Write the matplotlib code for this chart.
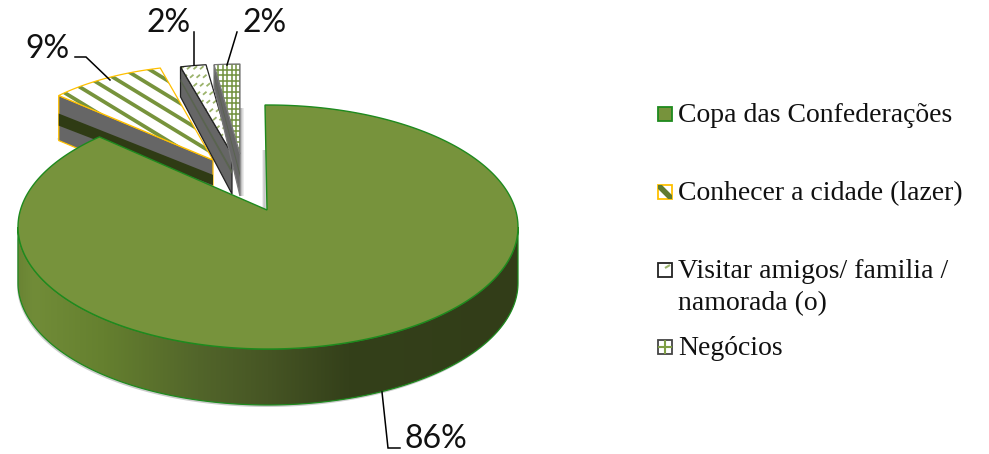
import numpy as np
import matplotlib
matplotlib.use("Agg")
import matplotlib.pyplot as plt
from matplotlib.patches import Polygon, Rectangle
from matplotlib.collections import LineCollection
from matplotlib.colors import LinearSegmentedColormap

categories = ["Copa das Confederações", "Conhecer a cidade (lazer)",
              "Visitar amigos/ familia /\nnamorada (o)", "Negócios"]
values = [86, 9, 2, 2]
pct_labels = ["86%", "9%", "2%", "2%"]

W, H = 989, 454
fig = plt.figure(figsize=(W/100, H/100), dpi=100)
ax = fig.add_axes([0, 0, 1, 1])
ax.set_axis_off()

GREEN = "#77933C"
fracs = np.array(values, float) / sum(values)
edges = np.concatenate([[0], np.cumsum(fracs)]) * 2 * np.pi


def arc(cx, cy, rx, ry, t0, t1, n=160):
    t = np.linspace(t0, t1, n)
    return np.column_stack([cx + rx*np.sin(t), cy - ry*np.cos(t)])


# exploded slice geometry: apex x, apex y, rx, ry, wall depth at rim, wall depth at apex
geo = {1: (213, 160, 210, 95, 45, 45),
       2: (232, 154, 205, 90, 30, 40),
       3: (240, 154, 205, 90, 22, 42)}
edgecols = {1: "#FFC000", 2: "#222222", 3: "#777777"}
bandfrac = {1: (0.40, 0.67, 0.33, 0.56),
            2: (0.40, 0.50, 0.40, 0.50),
            3: (0.45, 0.55, 0.45, 0.55)}


def wall_quad(i, f0L, f1L, f0R, f1R):
    a0, a1, rx, ry, dL, dR = geo[i]
    p = arc(a0, a1, rx, ry, edges[i], edges[i], 1)[0]
    return [(p[0], p[1]+dL*f0L), (a0, a1+dR*f0R), (a0, a1+dR*f1R), (p[0], p[1]+dL*f1L)]


# soft shadows
for k in range(4):
    ax.add_patch(Rectangle((240, 108), 4-k*0.8, 88, fc="#888888", ec="none", alpha=0.16, zorder=1))
    ax.add_patch(Rectangle((264-k*0.7, 150), 3, 60, fc="#888888", ec="none", alpha=0.14, zorder=1))
ax.add_patch(Polygon([(57, 139), (80, 150), (80, 147), (60, 137)], fc="#999999", ec="none", alpha=.5, zorder=1))

for i in [1, 2, 3]:
    a0, a1, rx, ry, dL, dR = geo[i]
    z = 2 + i
    ax.add_patch(Polygon(wall_quad(i, 0, 1, 0, 1), fc="#666666", ec=edgecols[i], lw=0.9, zorder=z))
    ax.add_patch(Polygon(wall_quad(i, *bandfrac[i]),
                         fc="#2F3B14" if i == 1 else "#59634f", ec="none", zorder=z))
    top = np.vstack([[a0, a1], arc(a0, a1, rx, ry, edges[i], edges[i+1], 30)])
    patch = Polygon(top, fc="white", ec="none", zorder=z)
    ax.add_patch(patch)
    segs = []
    xmin, xmax, ymin, ymax = top[:, 0].min(), top[:, 0].max(), top[:, 1].min(), top[:, 1].max()
    if i == 1:
        for c in np.arange(-150, 130, 15):
            segs.append([(xmin-10, ymin + c), (xmax+10, ymin + c + 0.61*(xmax-xmin+20))])
        lc = LineCollection(segs, colors=GREEN, linewidths=2.7, zorder=z)
    elif i == 2:
        for r, yy in enumerate(np.arange(ymin+3, ymax, 8.5)):
            for xx in np.arange(xmin + (r % 2)*3, xmax, 6.5):
                segs.append([(xx, yy+1.5), (xx+3.5, yy-1.5)])
        lc = LineCollection(segs, colors="#9BB36B", linewidths=1.3, zorder=z)
    else:
        for xx in np.arange(xmin, xmax+1, 4.4):
            segs.append([(xx, ymin), (xx, ymax)])
        for yy in np.arange(ymin, ymax+1, 5.6):
            segs.append([(xmin, yy), (xmax, yy)])
        lc = LineCollection(segs, colors="#6F8F3A", linewidths=1.1, zorder=z)
    ax.add_collection(lc)
    lc.set_clip_path(patch)
    ax.add_patch(Polygon(top, fc="none", ec=edgecols[i], lw=0.9, zorder=z))

# main slice
cx, cy, rx, ry, depth = 268, 227, 250, 122, 56
cmap = LinearSegmentedColormap.from_list("wall", [
    (0.00, "#6A8434"), (0.03, "#718C38"), (0.17, "#65802F"), (0.36, "#52652A"),
    (0.50, "#465524"), (0.66, "#34401A"), (1.00, "#323D18")])
upper = arc(cx, cy, rx, ry, np.pi/2, 3*np.pi/2)
lower = arc(cx, cy+depth, rx, ry, 3*np.pi/2, np.pi/2)
outline = np.vstack([upper, lower])
ax.add_patch(Polygon(outline + [-1, 2], fc="#AAAAAA", ec="none", alpha=.6, zorder=9))
wall = Polygon(outline, fc="none", ec="#1E8A1E", lw=0.9, zorder=11)
ax.add_patch(wall)
im = ax.imshow(np.linspace(0, 1, 256)[None, :], cmap=cmap, aspect="auto",
               extent=(cx-rx, cx+rx, cy+ry+depth, cy-ry), zorder=10)
im.set_clip_path(wall)

apex = (267, 210)
start_adjust, end_adjust = -0.012, 0.085   # perspective correction of the rim
main_top = np.vstack([[apex], arc(cx, cy, rx, ry, edges[0]+start_adjust, edges[1]+end_adjust, 300)])
ax.add_patch(Polygon(main_top, fc=GREEN, ec="#1E8A1E", lw=1.0, zorder=12))

# data labels with leader lines
label_pos = [(405, 448), (25, 58), (147, 32), (243, 32)]
leaders = [[(382, 392), (388, 448), (400, 448)],
           [(110, 80), (86, 57), (75, 57)],
           [(194, 65), (194, 32)],
           [(227, 65), (237, 32)]]
for lab, pos, ld in zip(pct_labels, label_pos, leaders):
    ax.text(pos[0], pos[1], lab, family="Lato", fontsize=23, color="#111111",
            ha="left", va="baseline", zorder=20)
    ax.plot(*zip(*ld), color="black", lw=1.1, zorder=20, solid_joinstyle="miter")

# legend
boxes = [107, 185, 263, 340]
baselines = [122, 200, 278, 355]
box_edges = ["#1E8A1E", "#FFC000", "#222222", "#444444"]
for k, (cat, by, bl, ec) in enumerate(zip(categories, boxes, baselines, box_edges)):
    fc = GREEN if k == 0 else "white"
    b = Rectangle((658, by), 14, 14, fc=fc, ec=ec, lw=1.3, zorder=5)
    ax.add_patch(b)
    if k == 1:
        s = LineCollection([[(658, by), (672, by+14)]], colors="#5F7A30", linewidths=4, zorder=5)
        ax.add_collection(s); s.set_clip_path(b)
    elif k == 2:
        s = LineCollection([[(665, by+5), (670, by+2)]], colors="#9BB36B", linewidths=1.5, zorder=5)
        ax.add_collection(s)
    elif k == 3:
        s = LineCollection([[(665, by), (665, by+14)], [(658, by+7), (672, by+7)]],
                           colors="#7F9F45", linewidths=1.5, zorder=5)
        ax.add_collection(s)
    for j, line in enumerate(cat.split("\n")):
        ax.text(678, bl + j*32, line, family="Liberation Serif", fontsize=20, color="#111111",
                ha="left", va="baseline", zorder=5)

ax.set_xlim(0, W)
ax.set_ylim(H, 0)
fig.savefig("out.png", dpi=100, facecolor="white")
